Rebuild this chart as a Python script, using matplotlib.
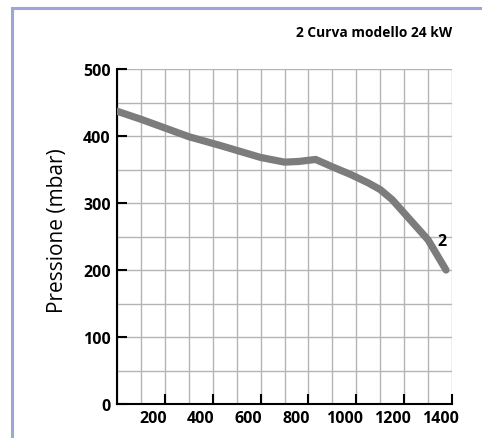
import matplotlib
matplotlib.use('Agg')
import matplotlib.pyplot as plt
import matplotlib.transforms as mtransforms
from matplotlib.lines import Line2D
from matplotlib.ticker import MultipleLocator

# Flow (x) vs pressure curve for model 2 (24 kW)
flow = [0, 100, 200, 300, 430, 600, 700, 760, 830, 900, 980, 1050, 1100, 1150, 1200, 1300, 1375]
pressure = [437, 425, 412, 399, 386, 368, 361, 362, 365, 354, 342, 330, 320, 305, 285, 245, 200]

x_ticks = [200, 400, 600, 800, 1000, 1200, 1400]
y_ticks = [0, 100, 200, 300, 400, 500]
title_text = "2 Curva modello 24 kW"
ylabel_text = "Pressione (mbar)"
curve_label = "2"

plt.rcParams['font.family'] = ['Open Sans', 'DejaVu Sans']

fig = plt.figure(figsize=(4.82, 4.39), dpi=100)
ax = fig.add_axes([117/482, 1 - 405/439, 335/482, 335/439])

ax.plot(flow, pressure, color='#7c7c7c', lw=5.2, solid_capstyle='round',
        solid_joinstyle='round', zorder=3)

ax.set_xlim(0, 1400)
ax.set_ylim(0, 500)
ax.set_xticks(x_ticks)
ax.set_yticks(y_ticks)
ax.xaxis.set_minor_locator(MultipleLocator(100))
ax.yaxis.set_minor_locator(MultipleLocator(50))
ax.grid(True, which='both', color='#b4b4b4', lw=1.0, zorder=1)
ax.set_axisbelow(True)

ax.tick_params(which='major', direction='in', length=7.2, width=1.5, color='black', pad=4.5)
ax.tick_params(which='minor', length=0)
for lab in ax.get_xticklabels() + ax.get_yticklabels():
    lab.set_fontweight('bold')
    lab.set_fontsize(11.5)

# x tick labels sit slightly left of their ticks in the original
offset = mtransforms.ScaledTranslation(-12/100, 0, fig.dpi_scale_trans)
for lab in ax.get_xticklabels():
    lab.set_transform(lab.get_transform() + offset)

for side in ['top', 'right']:
    ax.spines[side].set_visible(False)
for side in ['left', 'bottom']:
    ax.spines[side].set_linewidth(1.5)
    ax.spines[side].set_color('black')

ax.set_ylabel(ylabel_text, fontsize=15)
ax.yaxis.set_label_coords(68/482, 1 - 231/439, transform=fig.transFigure)

ax.text(1358, 244, curve_label, fontsize=11.5, fontweight='bold', ha='center', va='center')

fig.text(452/482, 1 - 33/439, title_text, fontsize=9.9, fontweight='bold', ha='right', va='center')

# frame on top and left
by = 1 - 8.8/439
bx = 11.5/482
fig.add_artist(Line2D([bx, bx, 1], [0, by, by], color='#9ba6d9', lw=2.2,
                      transform=fig.transFigure, solid_joinstyle='miter'))

fig.savefig('out.png', dpi=100)
